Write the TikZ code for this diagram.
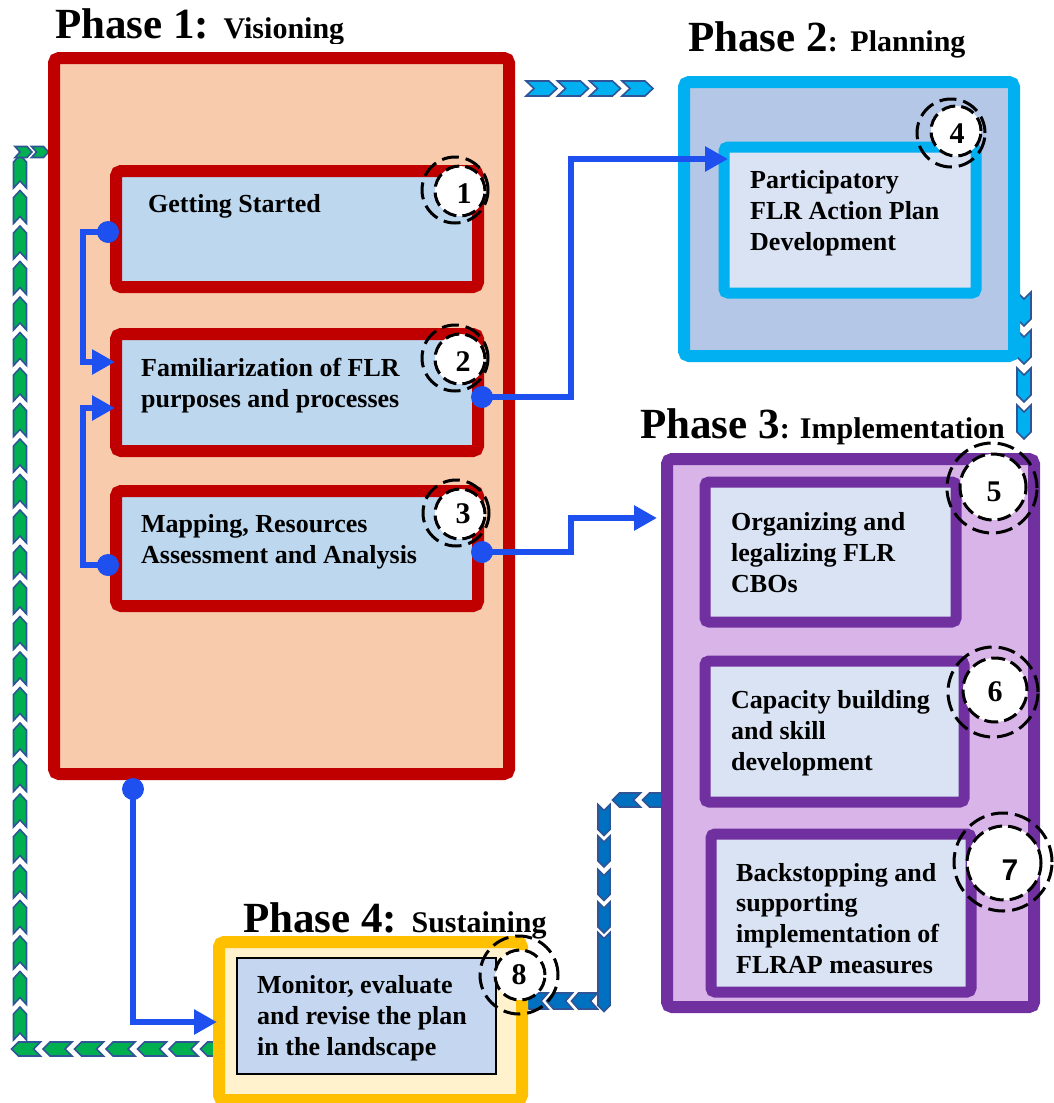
\documentclass[tikz,border=0pt]{standalone}
\usepackage{fontspec}
\setmainfont{Liberation Serif}
\newfontfamily\sevenfont{Liberation Sans}
\usetikzlibrary{arrows.meta}
\definecolor{pred}{HTML}{C00000}
\definecolor{peach}{HTML}{F8CBAD}
\definecolor{lblue}{HTML}{BDD7EE}
\definecolor{pcyan}{HTML}{00B0F0}
\definecolor{p2fill}{HTML}{B4C7E7}
\definecolor{pale}{HTML}{DAE3F3}
\definecolor{ppurple}{HTML}{7030A0}
\definecolor{lav}{HTML}{D8B4E8}
\definecolor{pgold}{HTML}{FFC000}
\definecolor{cream}{HTML}{FFF2CC}
\definecolor{b8fill}{HTML}{C5D7F0}
\definecolor{connc}{HTML}{1E50F0}
\definecolor{chevline}{HTML}{2F5597}
\definecolor{pgreen}{HTML}{00B050}
\definecolor{pblue}{HTML}{0070C0}
\newcommand\phbig{\fontsize{43}{43}\selectfont\bfseries}
\newcommand\phsmall{\fontsize{30}{30}\selectfont\bfseries}
\tikzset{
  pics/chev/.style n args={3}{code={\path[pic actions] (-#1/2,-#2/2) -- (#1/2-#3,-#2/2) -- (#1/2,0) -- (#1/2-#3,#2/2) -- (-#1/2,#2/2) -- (-#1/2+#3,0) -- cycle;}},
  chevbase/.style={draw=chevline, line width=1.6pt, line join=miter},
  cyanchev/.style={chevbase, fill=pcyan},
  greenchev/.style={chevbase, fill=pgreen},
  bluechev/.style={chevbase, fill=pblue},
  bigbox/.style={rectangle, line width=12pt, rounded corners=5pt, inner sep=0pt},
  smallbox/.style={rectangle, line width=11pt, rounded corners=4pt, inner sep=0pt},
  boxtext/.style={anchor=base west, inner sep=0pt, align=left, font=\fontsize{26}{30.8}\selectfont\bfseries},
  conn/.style={draw=connc, line width=6.5pt, -{Triangle[length=23pt,width=24pt]}},
  dotn/.style={circle, fill=connc, minimum size=22pt, inner sep=0pt},
  ringin/.style={circle, fill=white, draw=black, line width=3pt, dash pattern=on 14pt off 6pt, inner sep=0pt},
  ringout/.style={circle, draw=black, line width=3pt, dash pattern=on 17pt off 7pt, inner sep=0pt},
  digit/.style={inner sep=0pt, font=\fontsize{30}{30}\selectfont\bfseries},
  titlen/.style={anchor=base west, inner sep=0pt}
}
\newcommand\numring[9]{%
  \node[ringout, minimum size=#7pt] (o#1) at (#5,#6) {};
  \node[ringin, minimum size=#4pt] (r#1) at (#2,#3) {};
  \node[digit] (n#1) at (#8,#9) {#1};
}
\begin{document}
\begin{tikzpicture}[x=1pt,y=-1pt]
\clip (0,0) rectangle (1054,1103);
\fill[white] (0,0) rectangle (1054,1103);

% ---------- chevron trails ----------
\foreach \x in {541.5,573,605,637.5} \pic[cyanchev] at (\x,88.5) {chev={31}{15}{8}};
\foreach \y in {309,347,385,422} \pic[cyanchev,rotate=-90] at (1024,\y) {chev={34}{14}{7}};
\foreach \i in {0,...,24} \pic[greenchev,rotate=90] at (20,{1023.5-\i*35.5}) {chev={33}{13}{7}};
\foreach \x in {26,57.5,89,120.5,152,183.5,215} \pic[greenchev,rotate=180] at (\x,1049) {chev={29}{14}{7}};
\foreach \x in {23.5,40} \pic[greenchev] at (\x,152) {chev={17}{11}{5}};
\foreach \x in {626.5,656.5} \pic[bluechev,rotate=180] at (\x,800) {chev={28}{14}{7}};
\foreach \y in {820,851.5,885,917.5} \pic[bluechev,rotate=-90] at (604,\y) {chev={31}{12}{6}};
\pic[bluechev,rotate=-90] at (604,972) {chev={79}{12}{6}};
\foreach \x in {535,559.5,584.5} \pic[bluechev,rotate=180] at (\x,1001) {chev={26}{16}{7}};

% ---------- titles ----------
\begin{scope}
\clip (0,0) rectangle (600,43);
\node[titlen] (t1) at (55,38) {\phbig Phase 1: \phsmall Visioning};
\end{scope}
\node[titlen] (t2) at (688,51) {\phbig Phase 2\phsmall:\ \,Planning};
\node[titlen] (t3) at (640,438) {\phbig Phase 3\phsmall: Implementation};
\node[titlen] (t4) at (243,932) {\phbig Phase 4: \phsmall Sustaining};

% ---------- phase boxes ----------
\node[bigbox, draw=pred, fill=peach, minimum width=455pt, minimum height=716pt] (p1) at (281.5,416) {};
\node[bigbox, draw=pcyan, fill=p2fill, minimum width=330pt, minimum height=274pt] (p2) at (849,219) {};
\node[bigbox, draw=ppurple, fill=lav, minimum width=367pt, minimum height=548pt] (p3) at (850.5,733) {};
\node[bigbox, draw=pgold, fill=cream, minimum width=303pt, minimum height=158pt] (p4) at (370.5,1021) {};

% ---------- inner boxes ----------
\node[bigbox, draw=pred, fill=lblue, minimum width=362pt, minimum height=116pt] (b1) at (297,229) {};
\node[bigbox, draw=pred, fill=lblue, minimum width=362pt, minimum height=117pt] (b2) at (297,392.5) {};
\node[bigbox, draw=pred, fill=lblue, minimum width=362pt, minimum height=115pt] (b3) at (297,548.5) {};
\node[smallbox, draw=pcyan, fill=pale, minimum width=252pt, minimum height=146pt] (b4) at (850,220) {};
\node[smallbox, draw=ppurple, fill=pale, minimum width=251pt, minimum height=140pt] (b5) at (830.5,552) {};
\node[smallbox, draw=ppurple, fill=pale, minimum width=259pt, minimum height=141pt] (b6) at (834.5,731.5) {};
\node[smallbox, draw=ppurple, fill=pale, minimum width=260pt, minimum height=158pt] (b7) at (841,913) {};
\node[rectangle, draw=black, line width=1.5pt, fill=b8fill, minimum width=259pt, minimum height=116pt, inner sep=0pt] (b8) at (366.5,1016) {};

% ---------- box texts (anchor = baseline of last line) ----------
\node[boxtext] (x1) at (148,212) {Getting Started};
\node[boxtext] (x2) at (141,407) {Familiarization of FLR\\purposes and processes};
\node[boxtext] (x3) at (141,563) {Mapping, Resources\\Assessment and Analysis};
\node[boxtext] (x4) at (750,250.5) {Participatory\\FLR Action Plan\\Development};
\node[boxtext] (x5) at (731,592.5) {Organizing and\\legalizing FLR\\CBOs};
\node[boxtext] (x6) at (731,770.5) {Capacity building\\and skill\\development};
\node[boxtext] (x7) at (736,973.5) {Backstopping and\\supporting\\implementation of\\FLRAP measures};
\node[boxtext] (x8) at (257,1055) {Monitor, evaluate\\and revise the plan\\in the landscape};

% ---------- connectors ----------
\node[dotn] (d1) at (108,232) {};
\node[dotn] (d2) at (108,565) {};
\node[dotn] (d3) at (482,397) {};
\node[dotn] (d4) at (482,552) {};
\node[dotn] (d5) at (133,789) {};
\coordinate (e1) at (115,362);
\coordinate (e2) at (115,408);
\coordinate (e3) at (728,159);
\coordinate (e4) at (657,518);
\coordinate (e5) at (217,1022);
\draw[conn] (d1.center) -- (83,232) |- (e1);
\draw[conn] (d2.center) -- (83,565) |- (e2);
\draw[conn] (d3.center) -- (571,397) |- (e3);
\draw[conn] (d4.center) -- (571,552) |- (e4);
\draw[conn] (d5.center) |- (e5);

% ---------- numbered rings ----------
\numring{1}{460}{191}{50}{455}{190}{66}{464}{194}
\numring{2}{460}{359}{50}{455}{358}{66}{463}{362}
\numring{3}{460}{514}{50}{456}{513}{66}{463}{514}
\numring{4}{956}{131}{50}{951}{133}{68}{957}{134}
\numring{5}{993}{487}{66}{992}{488}{90}{994}{492}
\numring{6}{995}{690}{64}{993}{692}{90}{995}{692}
\node[ringout, minimum size=98pt] (o7) at (1003,862) {};
\node[ringin, minimum size=74pt] (r7) at (1004,863) {};
\node[digit, font=\fontsize{30}{30}\selectfont\bfseries\sevenfont] (n7) at (1010,870) {7};
\numring{8}{520}{975}{50}{519}{975}{78}{519}{975}
\end{tikzpicture}
\end{document}
